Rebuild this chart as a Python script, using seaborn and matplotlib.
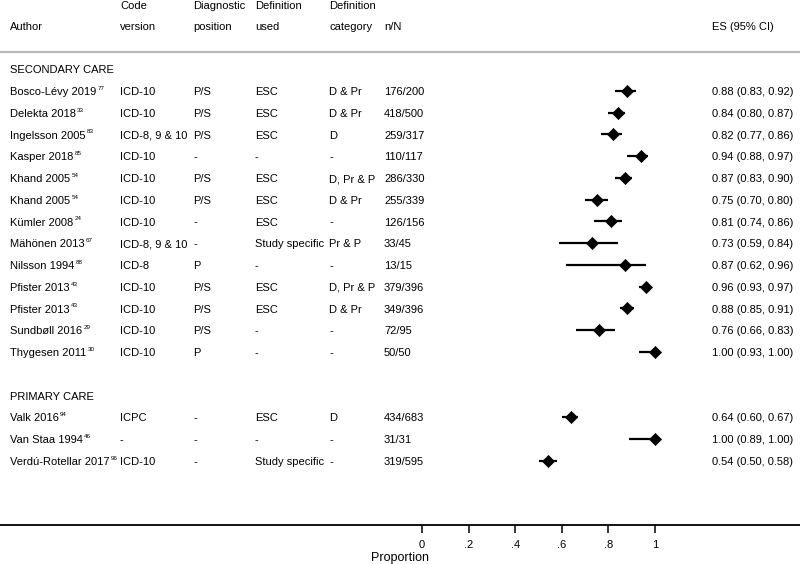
import matplotlib
matplotlib.use("Agg")
import matplotlib.pyplot as plt
import matplotlib.transforms as mtransforms
import seaborn as sns
import pandas as pd

sns.set_theme(style="white")
plt.rcParams['font.family'] = ['Liberation Sans', 'DejaVu Sans']
plt.rcParams['text.hinting'] = 'auto'
plt.rcParams['text.hinting_factor'] = 8
plt.rcParams['text.color'] = 'black'
plt.rcParams['axes.labelcolor'] = 'black'
plt.rcParams['xtick.color'] = 'black'
plt.rcParams['xtick.labelcolor'] = 'black'

# ---------------- data ----------------
groups = ["SECONDARY CARE", "PRIMARY CARE"]

sec_authors = ["Bosco-Lévy 2019", "Delekta 2018", "Ingelsson 2005", "Kasper 2018",
               "Khand 2005", "Khand 2005", "Kümler 2008", "Mähönen 2013",
               "Nilsson 1994", "Pfister 2013", "Pfister 2013", "Sundbøll 2016",
               "Thygesen 2011"]
sec_refs = ["77", "33", "83", "85", "54", "54", "24", "67", "88", "43", "43", "29", "30"]
sec_code = ["ICD-10", "ICD-10", "ICD-8, 9 & 10", "ICD-10", "ICD-10", "ICD-10", "ICD-10",
            "ICD-8, 9 & 10", "ICD-8", "ICD-10", "ICD-10", "ICD-10", "ICD-10"]
sec_diag = ["P/S", "P/S", "P/S", "-", "P/S", "P/S", "-", "-", "P", "P/S", "P/S", "P/S", "P"]
sec_defused = ["ESC", "ESC", "ESC", "-", "ESC", "ESC", "ESC", "Study specific", "-",
               "ESC", "ESC", "-", "-"]
sec_defcat = ["D & Pr", "D & Pr", "D", "-", "D, Pr & P", "D & Pr", "-", "Pr & P", "-",
              "D, Pr & P", "D & Pr", "-", "-"]
sec_nN = ["176/200", "418/500", "259/317", "110/117", "286/330", "255/339", "126/156",
          "33/45", "13/15", "379/396", "349/396", "72/95", "50/50"]
sec_es = [0.88, 0.84, 0.82, 0.94, 0.87, 0.75, 0.81, 0.73, 0.87, 0.96, 0.88, 0.76, 1.00]
sec_lo = [0.83, 0.80, 0.77, 0.88, 0.83, 0.70, 0.74, 0.59, 0.62, 0.93, 0.85, 0.66, 0.93]
sec_hi = [0.92, 0.87, 0.86, 0.97, 0.90, 0.80, 0.86, 0.84, 0.96, 0.97, 0.91, 0.83, 1.00]

pri_authors = ["Valk 2016", "Van Staa 1994", "Verdú-Rotellar 2017"]
pri_refs = ["94", "46", "96"]
pri_code = ["ICPC", "-", "ICD-10"]
pri_diag = ["-", "-", "-"]
pri_defused = ["ESC", "-", "Study specific"]
pri_defcat = ["D", "-", "-"]
pri_nN = ["434/683", "31/31", "319/595"]
pri_es = [0.64, 1.00, 0.54]
pri_lo = [0.60, 0.89, 0.50]
pri_hi = [0.67, 1.00, 0.58]

xticks = [0, 0.2, 0.4, 0.6, 0.8, 1.0]
xticklabels = ["0", ".2", ".4", ".6", ".8", "1"]
headers = [("", "Author"), ("Code", "version"), ("Diagnostic", "position"),
           ("Definition", "used"), ("Definition", "category"), ("", "n/N"),
           ("", "ES (95% CI)")]
xlabel = "Proportion"

# ---------------- table assembly ----------------
rows = []
for g, (a, r, c, d, du, dc, n, e, lo, hi) in enumerate([
        (sec_authors, sec_refs, sec_code, sec_diag, sec_defused, sec_defcat, sec_nN, sec_es, sec_lo, sec_hi),
        (pri_authors, pri_refs, pri_code, pri_diag, pri_defused, pri_defcat, pri_nN, pri_es, pri_lo, pri_hi)]):
    for i in range(len(a)):
        rows.append(dict(group=groups[g], author=a[i], ref=r[i], code=c[i], diag=d[i],
                         defused=du[i], defcat=dc[i], nN=n[i], es=e[i], lo=lo[i], hi=hi[i]))
df = pd.DataFrame(rows)

# row positions: group header line, then studies, blank line between groups
pos = []
header_pos = {}
cur = -1
for g in groups:
    header_pos[g] = cur
    cur += 1
    for _ in range((df.group == g).sum()):
        pos.append(cur)
        cur += 1
    cur += 1
df["row"] = pos

# ---------------- figure ----------------
W, H = 800, 564
fig = plt.figure(figsize=(W / 100, H / 100), dpi=100)
ax = fig.add_axes([0, 0, 1, 1])
x0_px, x1_px = 422, 655
scale = x1_px - x0_px
ax.set_xlim(-x0_px / scale, (W - x0_px) / scale)
row_top_px, row_h = 91, 21.75
ax.set_ylim((H - row_top_px) / row_h, -row_top_px / row_h)

fs = 8
BL = 0.185  # baseline offset (rows) so cap letters are centred on the row
# CI lines and point estimates
ax.hlines(df["row"], df["lo"], df["hi"], color="black", lw=1.6, zorder=2)
sns.scatterplot(data=df, x="es", y="row", marker="D", color="black", s=38,
                edgecolor="black", linewidth=0.5, ax=ax, zorder=3, legend=False)

trans = mtransforms.blended_transform_factory(ax.transAxes, ax.transData)
col_x = [10, 120, 193, 255, 329, 384, 712]
cols = ["author", "code", "diag", "defused", "defcat", "nN"]


def put(xp, y, s, **kw):
    return ax.text(xp / W, y + BL, s, transform=trans, fontsize=fs,
                   va="baseline", ha="left", color="black", **kw)


# headers
for (l1, l2), xp in zip(headers, col_x):
    if l1:
        put(xp, -3.95, l1)
    put(xp, -3.0, l2)
ax.axhline(-1.8, color="#b8b8b8", lw=1.6, zorder=1)

for g in groups:
    put(col_x[0], header_pos[g], g)

for _, r in df.iterrows():
    t = put(col_x[0], r["row"], r["author"])
    ax.annotate(r["ref"], xy=(1, 1), xycoords=t, xytext=(0.8, 0.8),
                textcoords="offset points", fontsize=4.5, va="top", ha="left",
                color="black")
    for c, xp in zip(cols[1:], col_x[1:6]):
        put(xp, r["row"], r[c])
    put(col_x[6], r["row"], f"{r['es']:.2f} ({r['lo']:.2f}, {r['hi']:.2f})")

# axis
for s in ["top", "left", "right"]:
    ax.spines[s].set_visible(False)
ax.spines["bottom"].set_position(("data", (525 - row_top_px) / row_h))
ax.spines["bottom"].set_color("black")
ax.spines["bottom"].set_linewidth(1.3)
ax.set_yticks([])
ax.set_ylabel("")
ax.set_xticks(xticks)
ax.set_xticklabels(xticklabels, fontsize=fs)
ax.tick_params(axis="x", bottom=True, direction="out", length=6, width=1.1,
               color="black", labelcolor="black", pad=5)
ax.set_xlabel(xlabel, fontsize=9, labelpad=1, color="black")
ax.grid(False)

fig.savefig("out.png", dpi=100)
